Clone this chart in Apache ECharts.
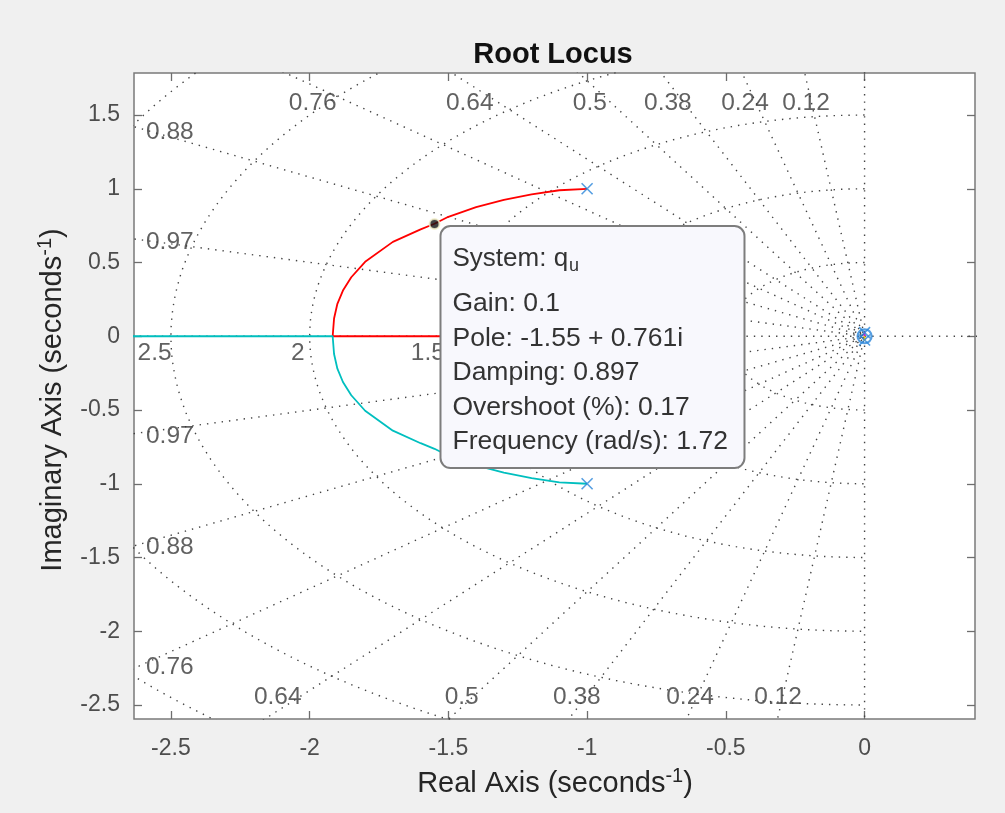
<!DOCTYPE html>
<html><head><meta charset="utf-8">
<script src="https://cdn.jsdelivr.net/npm/echarts@6/dist/echarts.min.js"></script>
<style>html,body{margin:0;padding:0;background:#f0f0f0}#c{width:1005px;height:813px}</style>
</head><body><div id="c"></div>
<script>
// ---- data ----
const xTicks = [-2.5, -2, -1.5, -1, -0.5, 0];
const yTicks = [-2.5, -2, -1.5, -1, -0.5, 0, 0.5, 1, 1.5];
const dampingValues = [0.12, 0.24, 0.38, 0.5, 0.64, 0.76, 0.88, 0.97];
const wnValues = [0.5, 1, 1.5, 2, 2.5, 3, 3.5];
const redBranch = [[-1.0, 1.0], [-1.1, 0.99], [-1.2, 0.962], [-1.3, 0.925], [-1.4, 0.875], [-1.5, 0.81], [-1.55, 0.763], [-1.6, 0.725], [-1.7, 0.64], [-1.8, 0.505], [-1.85, 0.40], [-1.88, 0.31], [-1.9, 0.22], [-1.912, 0.12], [-1.917, 0], [-0.913, 0]];
const cyanBranch = [[-1.0, -1.0], [-1.1, -0.99], [-1.2, -0.962], [-1.3, -0.925], [-1.4, -0.875], [-1.5, -0.81], [-1.55, -0.763], [-1.6, -0.725], [-1.7, -0.64], [-1.8, -0.505], [-1.85, -0.40], [-1.88, -0.31], [-1.9, -0.22], [-1.912, -0.12], [-1.917, 0], [-3.0, 0]];
const originMagenta = [[0, 0.03], [0, 0]];
const originYellow = [[0, 0], [0, -0.03]];
const polesMain = [[-1, 1], [-1, -1]];
const zerosMain = [[-0.913, 0]];
const polesOrigin = [[0, 0.025], [0, -0.025]];
const zerosOrigin = [[0, 0]];
const dataTip = [-1.55, 0.761];
const tipSystem = 'q';
const tipSystemSub = 'u';
const tipLines = ['Gain: 0.1', 'Pole: -1.55 + 0.761i', 'Damping: 0.897', 'Overshoot (%): 0.17', 'Frequency (rad/s): 1.72'];
const dampLabelsTop = ['0.76', '0.64', '0.5', '0.38', '0.24', '0.12'];
const dampLabelsLeft = ['0.88', '0.97', '0.97', '0.88', '0.76'];
const dampLabelsBottom = ['0.64', '0.5', '0.38', '0.24', '0.12'];
const wnLabels = ['2.5', '2', '1.5', '1', '0.5'];

// ---- layout (label anchor positions in data units) ----
const topLabelX = [-1.989, -1.423, -0.990, -0.709, -0.431, -0.211];
const topLabelY = 1.58;
const leftLabelX = -2.504;
const leftLabelY = [1.383, 0.637, -0.678, -1.431, -2.244];
const bottomLabelX = [-2.115, -1.452, -1.037, -0.629, -0.312];
const bottomLabelY = -2.447;
const wnLabelX = [-2.559, -2.043, -1.574, -1.06, -0.55];
const wnLabelY = -0.115;

const X_MIN = -2.633, X_MAX = 0.398, Y_MIN = -2.595, Y_MAX = 1.785;
const FONT = "'Liberation Sans', Arial, Helvetica, sans-serif";
const gridColor = '#444444';
const dotted = { color: gridColor, width: 1.4, type: [1.4, 6] };

const series = [];
// damping rays
dampingValues.forEach(z => {
  const s = Math.sqrt(1 - z * z), L = 8;
  series.push({ type: 'line', silent: true, symbol: 'none', z: 1, lineStyle: dotted,
    data: [[-L * z, L * s], [0, 0], [-L * z, -L * s]] });
});
series.push({ type: 'line', silent: true, symbol: 'none', z: 1, lineStyle: dotted, data: [[0, -8], [0, 8]] });
series.push({ type: 'line', silent: true, symbol: 'none', z: 1, lineStyle: dotted, data: [[-8, 0], [8, 0]] });
// natural frequency circles (left half plane)
wnValues.forEach(r => {
  const pts = [];
  for (let a = 90; a <= 270; a += 1.5) { const t = a * Math.PI / 180; pts.push([r * Math.cos(t), r * Math.sin(t)]); }
  series.push({ type: 'line', silent: true, symbol: 'none', z: 1, lineStyle: dotted, data: pts });
});
// locus
series.push({ type: 'line', symbol: 'none', z: 3, lineStyle: { color: '#ff0000', width: 1.8 }, data: redBranch });
series.push({ type: 'line', symbol: 'none', z: 3, lineStyle: { color: '#00bfbf', width: 1.8 }, data: cyanBranch });
series.push({ type: 'line', symbol: 'none', z: 3, lineStyle: { color: '#d020d0', width: 2 }, data: originMagenta });
series.push({ type: 'line', symbol: 'none', z: 3, lineStyle: { color: '#e8c000', width: 2 }, data: originYellow });
const xPath = 'path://M0 0L10 10M10 0L0 10';
series.push({ type: 'scatter', z: 4, symbol: xPath, symbolSize: 11,
  itemStyle: { color: 'transparent', borderColor: '#2a86da', borderWidth: 1.6 }, data: polesMain.concat(polesOrigin) });
series.push({ type: 'scatter', z: 4, symbol: 'circle', symbolSize: 14,
  itemStyle: { color: 'transparent', borderColor: '#2a86da', borderWidth: 2.2 }, data: zerosMain.concat(zerosOrigin) });
// data tip marker
series.push({ type: 'scatter', z: 5, symbol: 'circle', symbolSize: 10,
  itemStyle: { color: '#111', borderColor: '#f3efc8', borderWidth: 2 }, data: [dataTip] });
// grid labels
const labelData = [];
dampLabelsTop.forEach((t, i) => labelData.push({ value: [topLabelX[i], topLabelY], name: t }));
dampLabelsLeft.forEach((t, i) => labelData.push({ value: [leftLabelX, leftLabelY[i]], name: t }));
dampLabelsBottom.forEach((t, i) => labelData.push({ value: [bottomLabelX[i], bottomLabelY], name: t }));
wnLabels.forEach((t, i) => labelData.push({ value: [wnLabelX[i], wnLabelY], name: t }));
series.push({ type: 'scatter', silent: true, z: 2, symbolSize: 0, data: labelData,
  label: { show: true, position: 'inside', formatter: p => p.name, color: '#3a3a3a', fontSize: 24.5, fontFamily: FONT } });

const axisCommon = (min, max, ticks, showLabel, pos) => ({
  type: 'value', min, max, position: pos,
  axisLine: { show: false, onZero: false },
  splitLine: { show: false },
  axisTick: { show: true, inside: true, length: 8, customValues: ticks, lineStyle: { color: '#6e6e6e', width: 1.3 } },
  axisLabel: { show: showLabel, customValues: ticks, color: '#4d4d4d', fontSize: 23, fontFamily: FONT, margin: pos === 'bottom' ? 18 : 14 }
});

const chart = echarts.init(document.getElementById('c'));
const option = {
  backgroundColor: '#f0f0f0',
  animation: false,
  grid: { left: 134, right: 30, top: 73, bottom: 94, show: true, backgroundColor: '#ffffff', borderColor: '#7a7a7a', borderWidth: 1.5 },
  xAxis: [axisCommon(X_MIN, X_MAX, xTicks, true, 'bottom'), axisCommon(X_MIN, X_MAX, xTicks, false, 'top')],
  yAxis: [axisCommon(Y_MIN, Y_MAX, yTicks, true, 'left'), axisCommon(Y_MIN, Y_MAX, yTicks, false, 'right')],
  series: series
};
chart.setOption(option);

// annotations: title, axis names, data tip box
const tipPx = chart.convertToPixel({ gridIndex: 0 }, dataTip);
const boxX = tipPx[0] + 6, boxY = tipPx[1] + 2, boxW = 304, boxH = 242;
const tipTexts = [{ type: 'text', z: 101, x: boxX + 12, y: boxY + 33, style: {
  text: '{n|System: ' + tipSystem + '}{s|' + tipSystemSub + '}', verticalAlign: 'middle',
  rich: { n: { fontSize: 26, fontFamily: FONT, fill: '#333' }, s: { fontSize: 18, fontFamily: FONT, fill: '#333', padding: [15, 0, 0, 1] } } } }];
tipLines.forEach((t, i) => tipTexts.push({ type: 'text', z: 101, x: boxX + 12, y: boxY + 78 + i * 34.4,
  style: { text: t, fill: '#333', font: '26.5px ' + FONT, verticalAlign: 'middle' } }));

chart.setOption({
  graphic: [
    { type: 'text', x: 553, y: 55, style: { text: 'Root Locus', font: 'bold 29px ' + FONT, fill: '#111', align: 'center', verticalAlign: 'middle' } },
    { type: 'text', x: 555, y: 784, style: { text: '{n|Real Axis (seconds}{p|-1}{n|)}', align: 'center', verticalAlign: 'middle',
      rich: { n: { fontSize: 29, fontFamily: FONT, fill: '#262626' }, p: { fontSize: 20, fontFamily: FONT, fill: '#262626', padding: [0, 0, 16, 0] } } } },
    { type: 'text', x: 53, y: 400, rotation: Math.PI / 2, style: { text: '{n|Imaginary Axis (seconds}{p|-1}{n|)}', align: 'center', verticalAlign: 'middle',
      rich: { n: { fontSize: 29, fontFamily: FONT, fill: '#262626' }, p: { fontSize: 20, fontFamily: FONT, fill: '#262626', padding: [0, 0, 16, 0] } } } },
    { type: 'rect', z: 100, shape: { x: boxX, y: boxY, width: boxW, height: boxH, r: 10 }, style: { fill: '#f8f8fd', stroke: '#7d7d7d', lineWidth: 2 } }
  ].concat(tipTexts)
});
</script></body></html>
